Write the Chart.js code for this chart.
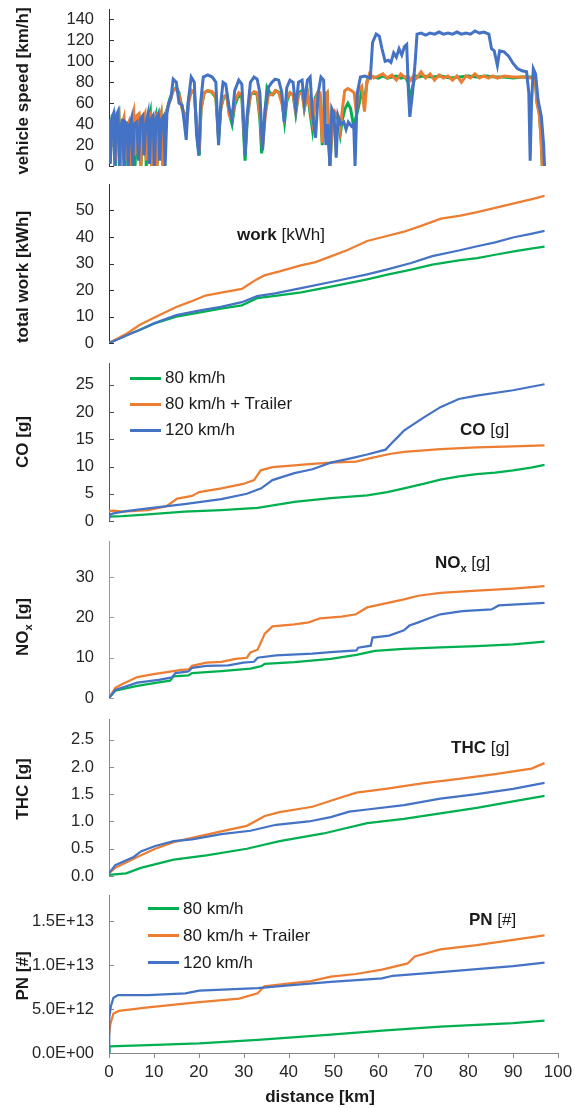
<!DOCTYPE html>
<html>
<head>
<meta charset="utf-8">
<script src="https://cdn.jsdelivr.net/npm/chart.js@4.4.1/dist/chart.umd.min.js"></script>
<style>
  html, body { margin: 0; padding: 0; background: #fff; }
  #wrap { position: relative; width: 575px; height: 1108px; overflow: hidden;
          font-family: "Liberation Sans", Arial, sans-serif; color: #1a1a1a; }
  canvas { position: absolute; left: 0; }
  .ytitle { position: absolute; font-weight: bold; font-size: 17px; line-height: 20px; white-space: nowrap;
            transform: translate(-50%, -50%) rotate(-90deg); }
  .note { position: absolute; font-size: 17px; line-height: 20px; white-space: nowrap; transform: translateY(-50%); }
  .xtitle { position: absolute; font-weight: bold; font-size: 17px; line-height: 20px; white-space: nowrap;
            transform: translate(-50%, -50%); }
  .legend { position: absolute; font-size: 17px; }
  .legend .row { display: flex; align-items: center; white-space: nowrap; }
  .legend .line { display: inline-block; width: 31px; height: 3px; margin-right: 4px; }
  sub { font-size: 11px; vertical-align: -4px; line-height: 0; }
</style>
</head>
<body>
<div id="wrap">
  <canvas id="c1" width="575" height="181" style="top:-3px"></canvas>
  <canvas id="c2" width="575" height="183" style="top:172px"></canvas>
  <canvas id="c3" width="575" height="182" style="top:351px"></canvas>
  <canvas id="c4" width="575" height="181" style="top:529px"></canvas>
  <canvas id="c5" width="575" height="181" style="top:707px"></canvas>
  <canvas id="c6" width="575" height="225" style="top:883px"></canvas>

  <div class="ytitle" style="left:23px; top:91px">vehicle speed [km/h]</div>
  <div class="ytitle" style="left:23px; top:277px">total work [kWh]</div>
  <div class="ytitle" style="left:23px; top:442px">CO [g]</div>
  <div class="ytitle" style="left:23px; top:627px">NO<sub>x</sub> [g]</div>
  <div class="ytitle" style="left:23px; top:789px">THC [g]</div>
  <div class="ytitle" style="left:23px; top:976px">PN [#]</div>

  <div class="note" style="left:237px; top:235px"><b>work</b> [kWh]</div>
  <div class="note" style="left:460px; top:430px"><b>CO</b> [g]</div>
  <div class="note" style="left:435px; top:563px"><b>NO<sub>x</sub></b> [g]</div>
  <div class="note" style="left:451px; top:748px"><b>THC</b> [g]</div>
  <div class="note" style="left:469px; top:920px"><b>PN</b> [#]</div>

  <div class="legend" id="legCO" style="left:130px; top:365px; line-height:26px"></div>
  <div class="legend" id="legPN" style="left:148px; top:895px; line-height:27px"></div>

  <div class="xtitle" style="left:320px; top:1097px">distance [km]</div>
</div>

<script>
// ==============================================
// ① 시리즈 이름 / 색상
// ==============================================
const seriesNames = ["80 km/h", "80 km/h + Trailer", "120 km/h"];
const seriesColors = ["#00B050", "#ED7D31", "#4472C4"];

// ==============================================
// ② 데이터 [거리 km, 값]
// ==============================================
// 차량 속도 [km/h]
const speed80 = [[0,42],[0.3,5],[0.7,48],[1.1,50],[1.4,0],[1.8,45],[2.2,50],[2.5,0],[2.9,40],[3.3,45],[3.6,0],[4.0,40],[4.4,42],[4.7,0],[5.1,40],[5.5,45],[5.8,0],[6.2,40],[6.7,45],[7.1,0],[7.5,35],[8.0,48],[8.3,0],[8.8,45],[9.2,52],[9.5,0],[9.9,40],[10.4,48],[10.7,0],[11.2,45],[11.6,50],[12.0,0],[12.4,45],[13.0,55],[13.6,65],[14.3,72],[15.0,75],[15.6,70],[16.3,55],[16.8,50],[17.3,45],[17.8,65],[18.4,72],[19.0,70],[19.6,30],[20.1,10],[20.5,55],[21.2,70],[22.0,72],[23.0,70],[23.8,65],[24.4,25],[24.9,55],[25.5,65],[26.2,68],[26.8,50],[27.4,40],[28.0,58],[28.9,68],[29.6,65],[30.3,5],[30.8,45],[31.5,68],[32.3,70],[33.0,68],[33.6,45],[34.0,12],[34.6,45],[35.2,75],[35.8,70],[36.5,68],[37.2,72],[38.0,70],[38.6,60],[39.1,42],[39.6,62],[40.3,70],[41.0,68],[41.6,50],[42.2,70],[43.0,72],[43.5,55],[44.2,70],[44.8,50],[45.3,35],[45.9,65],[46.5,70],[47.0,68],[47.5,20],[48.0,68],[48.6,70],[49.2,0],[49.7,35],[50.3,50],[51.0,45],[51.5,30],[52.0,45],[52.6,55],[53.2,60],[53.8,55],[54.4,40],[54.9,45],[55.5,55],[56.2,70],[56.9,62],[57.5,82],[58.2,86],[59,85],[60,84],[61,86],[62,84],[63,85],[64,86],[65,84],[66,85],[66.6,80],[67.1,62],[67.6,75],[68.2,86],[69,85],[70,86],[72,85],[74,86],[76,84],[78,85],[80,86],[82,85],[84,86],[86,85],[88,85],[90,84],[92,85],[94,85],[94.9,84],[95.3,62],[95.8,52],[96.2,30],[96.5,0]];
const speed80T = [[0,40],[0.3,10],[0.7,45],[1.1,48],[1.4,5],[1.8,42],[2.2,48],[2.5,0],[2.9,38],[3.3,45],[3.6,5],[4.0,38],[4.4,42],[4.7,0],[5.1,45],[5.5,52],[5.8,10],[6.2,48],[6.7,50],[7.1,0],[7.5,45],[8.0,50],[8.3,5],[8.8,48],[9.2,50],[9.5,0],[9.9,45],[10.4,48],[10.7,0],[11.2,42],[11.6,50],[12.0,0],[12.4,48],[13.0,55],[13.6,62],[14.3,72],[15.0,74],[15.6,68],[16.3,55],[16.8,50],[17.3,40],[17.8,62],[18.4,72],[19.0,70],[19.6,35],[20.1,15],[20.5,55],[21.2,70],[22.0,72],[23.0,71],[23.8,66],[24.4,28],[24.9,55],[25.5,66],[26.2,68],[26.8,48],[27.4,45],[28.0,62],[28.9,70],[29.6,68],[30.3,15],[30.8,48],[31.5,68],[32.3,71],[33.0,70],[33.6,50],[34.2,18],[34.8,48],[35.5,68],[36.3,68],[37.0,72],[37.8,70],[38.5,60],[39.0,48],[39.6,65],[40.3,70],[41.0,68],[41.6,52],[42.2,68],[43.0,70],[43.5,55],[44.2,70],[44.8,55],[45.3,42],[45.9,62],[46.5,70],[47.0,70],[47.5,22],[48.0,66],[48.6,70],[49.2,0],[49.7,38],[50.3,52],[51.0,48],[51.5,35],[52.0,55],[52.5,72],[53.2,74],[54.0,72],[54.6,70],[55.1,50],[55.6,72],[56.3,76],[56.9,52],[57.4,78],[58.0,88],[59,84],[60,86],[61,88],[62,84],[63,87],[64,82],[65,88],[66,84],[66.6,86],[67.2,82],[67.8,86],[68.5,84],[69.5,90],[70.5,84],[71.5,88],[72.5,82],[73.5,87],[74.5,84],[75.5,86],[76.5,82],[77.5,86],[78.5,80],[79.5,86],[80.5,84],[81.5,88],[82.5,84],[83.5,86],[84.5,84],[85.5,86],[86.5,84],[88,86],[90,85],[92,85],[94,84],[94.9,85],[95.3,60],[95.8,50],[96.2,28],[96.5,0]];
const speed120 = [[0,45],[0.3,2],[0.6,45],[1.0,50],[1.3,0],[1.6,48],[2.0,52],[2.3,0],[2.6,35],[3.0,45],[3.3,0],[3.6,42],[4.0,40],[4.3,0],[4.6,38],[5.0,45],[5.3,0],[5.6,40],[6.2,42],[6.6,5],[7.0,45],[7.5,48],[7.8,10],[8.2,40],[8.7,50],[9.0,2],[9.4,45],[9.8,48],[10.1,0],[10.5,45],[11.0,50],[11.3,5],[11.7,45],[12.2,48],[12.5,0],[12.9,50],[13.3,60],[13.8,65],[14.3,83],[15.0,80],[15.6,60],[16.3,58],[16.8,40],[17.2,25],[17.6,60],[18.3,85],[19.0,80],[19.5,30],[20.0,10],[20.4,60],[21.0,85],[22.0,87],[23.0,85],[23.8,80],[24.4,20],[24.9,60],[25.4,80],[26.0,78],[26.8,55],[27.4,45],[28.0,72],[28.9,82],[29.6,78],[30.3,10],[30.8,50],[31.5,80],[32.3,85],[33.0,83],[33.6,70],[34.2,15],[34.8,55],[35.5,75],[36.3,80],[37.0,83],[37.8,82],[38.5,70],[39.0,42],[39.6,75],[40.3,82],[41.0,80],[41.6,55],[42.2,80],[43.0,82],[43.5,60],[44.2,82],[44.8,85],[45.3,50],[46.0,27],[46.6,70],[47.2,85],[47.8,82],[48.3,20],[48.7,40],[49.2,0],[49.6,55],[50.1,50],[50.6,8],[51.0,48],[51.6,40],[52.3,42],[52.8,35],[53.3,42],[54.0,38],[54.5,40],[54.8,0],[55.3,70],[56.0,85],[57.0,86],[58.2,84],[58.7,118],[59.5,126],[60.2,124],[60.8,112],[61.5,100],[62.2,101],[62.8,99],[63.4,108],[64.0,104],[64.6,112],[65.2,106],[65.8,114],[66.3,116],[66.7,70],[67.0,47],[67.6,70],[68.2,100],[68.6,126],[69.5,127],[70.5,125],[71.5,127],[72.5,126],[73.5,128],[74.5,126],[75.5,127],[76.5,126],[77.5,128],[78.5,126],[79.5,127],[80.5,126],[81.5,129],[82.5,127],[83.5,128],[84.6,126],[85.2,112],[85.8,110],[86.5,96],[87.0,110],[88.0,109],[89.0,105],[90.0,98],[91.0,93],[92.0,91],[93.0,90],[93.5,70],[93.8,5],[94.1,60],[94.5,93],[95.0,88],[95.6,62],[96.3,47],[96.8,20],[97.0,0]];

// 누적 일 [kWh]
const work80 = [[0,0],[2,1.5],[4,3],[6.8,4.9],[10,7.3],[15,9.9],[20,11.5],[24.9,13],[29.6,14.2],[33,16.9],[37,17.8],[42.8,19.1],[50,21.5],[57.5,24],[62,25.8],[67.3,27.7],[72,29.6],[77.9,31.2],[82,32],[86,33.3],[90.2,34.6],[94,35.6],[97,36.4]];
const work80T = [[0,0],[2,1.8],[4,3.6],[6.8,6.8],[10,9.5],[15,13.6],[18,15.5],[21.5,17.9],[25,19],[29.6,20.4],[31,22],[32.9,24],[34.6,25.5],[38,27],[42.7,29.3],[46,30.5],[49.4,32.7],[53,35],[57.5,38.5],[61,40],[65.7,42],[70,44.5],[73.9,46.9],[78,48],[82,49.4],[86,51],[90.2,52.7],[94,54.2],[97,55.5]];
const work120 = [[0,0],[2,1.4],[4,2.9],[6.8,4.9],[10,7.4],[15,10.5],[20,12.2],[24.9,13.6],[29.6,15.4],[33,17.7],[37,18.7],[42.8,20.7],[50,23.2],[57.5,25.9],[62,27.8],[67.3,30.2],[72,32.8],[77.9,34.9],[82,36.5],[86,38],[90.2,39.9],[94,41.2],[97,42.3]];

// CO [g]
const co80 = [[0,0.8],[3,0.9],[8.7,1.2],[16.8,1.7],[25,2.0],[33.1,2.4],[41.3,3.5],[49.4,4.2],[57.5,4.7],[62,5.3],[65.7,6.0],[70,6.8],[73.8,7.6],[78,8.2],[81.9,8.6],[86,8.9],[90,9.3],[94,9.8],[97,10.3]];
const co80T = [[0,1.8],[1,1.9],[3,1.7],[8.7,2.0],[12.8,2.7],[15.2,4.1],[18.5,4.6],[20.1,5.3],[25,6.0],[29.9,6.8],[32.3,7.5],[33.8,9.3],[36.4,9.9],[41.3,10.2],[45.3,10.5],[49.4,10.7],[52,10.8],[55,10.9],[58.5,11.6],[62.5,12.3],[65.7,12.7],[73.8,13.2],[81.9,13.5],[90,13.7],[97,13.9]];
const co120 = [[0,0.3],[0.3,1.2],[1,1.4],[3.8,1.8],[8.7,2.3],[16.8,3.1],[25,4.0],[30.7,5.0],[33.9,6.0],[36.4,7.5],[41.3,8.8],[45.3,9.5],[49.4,10.7],[54.3,11.6],[57.5,12.2],[61.6,13.1],[63.2,14.5],[64.3,15.4],[65.7,16.6],[69.7,18.8],[73.8,20.9],[77.9,22.4],[81.9,23.0],[90,24.0],[97,25.1]];

// NOx [g]
const nox80 = [[0,0],[1.4,1.8],[6.3,3.0],[11.1,3.9],[13.6,4.3],[14.4,5.4],[17.7,5.6],[18.5,6.2],[25,6.7],[31.5,7.3],[33.9,7.9],[34.7,8.5],[41.3,8.9],[49.4,9.7],[55.1,10.7],[59.2,11.7],[65.7,12.2],[73.8,12.6],[81.9,12.9],[90,13.3],[97,14.0]];
const nox80T = [[0,0],[1.4,2.5],[3,3.5],[6.3,5.2],[10.3,6.0],[14.4,6.7],[16,7.0],[17.7,7.1],[18.5,8.0],[21.7,8.8],[25,9.0],[28.2,9.7],[30.7,10.0],[31.5,11.3],[33.1,12.0],[34.7,16.0],[36.4,17.8],[41.3,18.3],[44.5,18.8],[47,19.8],[51.8,20.2],[55,20.8],[57.5,22.5],[61.6,23.5],[65.7,24.5],[68.9,25.4],[73.8,26.1],[81.9,26.7],[90,27.2],[97,27.8]];
const nox120 = [[0,0],[1.4,2.0],[6.3,3.8],[11.1,4.5],[14,5.1],[14.8,6.2],[17.7,6.6],[18.5,7.5],[21.7,8.0],[26.6,8.1],[29.9,8.8],[32.3,9.0],[33.1,10.0],[37.2,10.6],[45.3,11.0],[49.4,11.4],[55.1,11.8],[55.5,12.5],[58.3,13.0],[58.7,15.0],[62.4,15.5],[65.7,16.8],[66.9,18.0],[68.9,18.8],[71.3,19.8],[73.8,20.8],[78.7,21.6],[85.2,22.0],[86.8,23.0],[97,23.6]];

// THC [g]
const thc80 = [[0,0.02],[3.8,0.05],[7.1,0.15],[14.4,0.3],[21.7,0.38],[30.7,0.5],[38,0.64],[47.8,0.78],[57.5,0.97],[65.7,1.05],[73.8,1.15],[81.9,1.25],[90,1.37],[97,1.47]];
const thc80T = [[0,0.05],[1.4,0.15],[6.3,0.35],[10.3,0.5],[14.4,0.62],[18.5,0.7],[25,0.82],[30.7,0.92],[34.7,1.1],[38,1.17],[45.3,1.27],[49.4,1.38],[55.1,1.53],[61.6,1.6],[69.7,1.7],[77.9,1.78],[86,1.87],[94.1,1.97],[97,2.07]];
const thc120 = [[0,0.05],[1.4,0.2],[5.5,0.35],[7.1,0.45],[10.3,0.55],[14.4,0.64],[18.5,0.67],[25,0.77],[31.5,0.83],[37.2,0.94],[44.5,1.0],[49.4,1.08],[53.5,1.18],[57.5,1.22],[65.7,1.3],[73.8,1.42],[81.9,1.5],[90,1.6],[97,1.71]];

// PN [#]
const pn80 = [[0,0],[0.1,0.75e12],[8.7,0.9e12],[20.1,1.1e12],[33.1,1.5e12],[49.4,2.1e12],[60.8,2.55e12],[73.8,3.0e12],[90,3.4e12],[97,3.7e12]];
const pn80T = [[0,2.0e12],[0.3,3.3e12],[1,4.5e12],[2.2,4.8e12],[8.7,5.2e12],[20.1,5.8e12],[29,6.2e12],[33.1,6.8e12],[34.6,7.6e12],[41.3,8.0e12],[45,8.2e12],[49.4,8.7e12],[55,9.0e12],[60.8,9.5e12],[62.4,9.7e12],[66.5,10.2e12],[68.1,11.0e12],[73.8,11.8e12],[81.9,12.3e12],[90,12.9e12],[97,13.4e12]];
const pn120 = [[0,0],[0.05,4.0e12],[0.4,5.3e12],[1,6.3e12],[2,6.6e12],[8.7,6.6e12],[17,6.8e12],[20.1,7.1e12],[33.1,7.4e12],[40,7.7e12],[49.4,8.1e12],[60.8,8.5e12],[63.2,8.8e12],[73.8,9.2e12],[90,9.9e12],[97,10.3e12]];

// 축 눈금 값
const distTicks = [0, 10, 20, 30, 40, 50, 60, 70, 80, 90, 100];
const speedTicks = [0, 20, 40, 60, 80, 100, 120, 140];
const workTicks = [0, 10, 20, 30, 40, 50];
const coTicks = [0, 5, 10, 15, 20, 25];
const noxTicks = [0, 10, 20, 30];
const thcTicks = [0, 0.5, 1.0, 1.5, 2.0, 2.5];
const pnTicks = [0, 5e12, 1e13, 1.5e13];

const fontFamily = "'Liberation Sans', Arial, sans-serif";

// ==============================================
// ③ 눈금 표시 플러그인 (y축: 안쪽, x축: 바깥쪽)
// ==============================================
const tickMarks = {
  id: "tickMarks",
  beforeDatasetsDraw(chart, args, opts) {
    const ctx = chart.ctx;
    const area = chart.chartArea;
    const y = chart.scales.y;
    const x = chart.scales.x;
    ctx.save();
    ctx.strokeStyle = opts.color;
    ctx.lineWidth = 1;
    y.ticks.forEach((t, i) => {
      const py = Math.round(y.getPixelForTick(i)) + 0.5;
      ctx.beginPath();
      ctx.moveTo(area.left, py);
      ctx.lineTo(area.left + 5, py);
      ctx.stroke();
    });
    if (x.options.display) {
      x.ticks.forEach((t, i) => {
        const px = Math.round(x.getPixelForTick(i)) + 0.5;
        ctx.beginPath();
        ctx.moveTo(px, area.bottom);
        ctx.lineTo(px, area.bottom + 5);
        ctx.stroke();
      });
    }
    ctx.restore();
  }
};

function sciLabel(v) {
  if (v === 0) return "0.0E+00";
  const e = Math.floor(Math.log10(v) + 1e-9);
  return (v / Math.pow(10, e)).toFixed(1) + "E+" + String(e).padStart(2, "0");
}

// ==============================================
// ④ 패널 생성 함수
// ==============================================
function makePanel(id, sets, yMax, yTicks, yFmt, axisColor, lineW, isBottom) {
  const xScale = {
    type: "linear", min: 0, max: 100, display: isBottom,
    afterBuildTicks: s => { s.ticks = distTicks.map(v => ({ value: v })); },
    ticks: { autoSkip: false, padding: 0, color: "#262626", font: { size: 17, family: fontFamily } },
    grid: { display: false, drawTicks: true, tickLength: 9 },
    border: { display: true, color: axisColor }
  };
  if (isBottom) xScale.afterFit = s => { s.height = 55; };

  return new Chart(document.getElementById(id), {
    type: "line",
    data: {
      datasets: sets.map((pairs, k) => ({
        label: seriesNames[k],
        data: pairs.map(p => ({ x: p[0], y: p[1] })),
        borderColor: seriesColors[k],
        backgroundColor: seriesColors[k],
        borderWidth: lineW,
        pointRadius: 0,
        tension: 0,
        fill: false,
        order: 3 - k
      }))
    },
    options: {
      responsive: false, animation: false, devicePixelRatio: 1,
      layout: { padding: { left: 0, right: 17, top: 12, bottom: isBottom ? 0 : 12 } },
      plugins: { legend: { display: false }, tooltip: { enabled: false }, tickMarks: { color: axisColor } },
      scales: {
        x: xScale,
        y: {
          min: 0, max: yMax,
          afterFit: s => { s.width = 109; },
          afterBuildTicks: s => { s.ticks = yTicks.map(v => ({ value: v })); },
          ticks: { autoSkip: false, padding: 0, color: "#262626",
                   font: { size: 16.5, family: fontFamily }, callback: yFmt },
          grid: { display: false, drawTicks: true, tickLength: 15 },
          border: { display: true, color: axisColor, width: 1 }
        }
      }
    },
    plugins: [tickMarks]
  });
}

makePanel("c1", [speed80, speed80T, speed120], 150, speedTicks, v => v, "#333", 3, false);
makePanel("c2", [work80, work80T, work120], 60, workTicks, v => v, "#333", 2.25, false);
makePanel("c3", [co80, co80T, co120], 29, coTicks, v => v, "#555", 2.25, false);
makePanel("c4", [nox80, nox80T, nox120], 39, noxTicks, v => v, "#999", 2.25, false);
makePanel("c5", [thc80, thc80T, thc120], 2.88, thcTicks, v => v.toFixed(1), "#888", 2.25, false);
makePanel("c6", [pn80, pn80T, pn120], 1.8e13, pnTicks, sciLabel, "#888", 2.25, true);

// ==============================================
// ⑤ 범례 (CO, PN 패널)
// ==============================================
["legCO", "legPN"].forEach(id => {
  const box = document.getElementById(id);
  for (let k = 0; k < seriesNames.length; k++) {
    box.insertAdjacentHTML("beforeend",
      `<div class="row"><span class="line" style="background:${seriesColors[k]}"></span>${seriesNames[k]}</div>`);
  }
});
</script>
</body>
</html>
